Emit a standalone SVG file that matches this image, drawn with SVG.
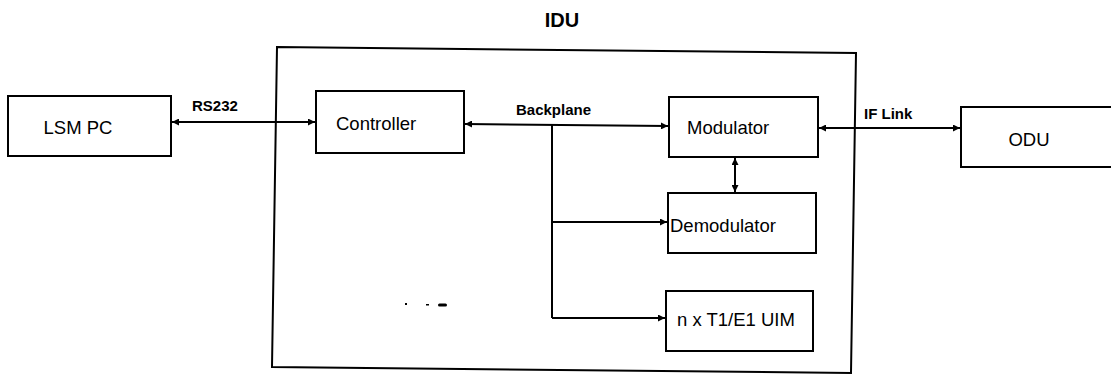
<svg xmlns="http://www.w3.org/2000/svg" width="1111" height="375" viewBox="0 0 1111 375">
<style>
.box{fill:#fff;stroke:#000;stroke-width:2}
.line{fill:none;stroke:#000;stroke-width:2}
.t{font-family:"Liberation Sans",Arial,sans-serif;font-size:18.5px;fill:#000}
.lbl{font-family:"Liberation Sans",Arial,sans-serif;font-size:15px;font-weight:bold;fill:#000}
</style>
<defs>
<marker id="ah" viewBox="0 0 10 10" refX="10" refY="5" markerWidth="9" markerHeight="7" markerUnits="userSpaceOnUse" orient="auto-start-reverse">
<path d="M0,0 L10,5 L0,10 Z" fill="#000"/>
</marker>
</defs>
<rect width="1111" height="375" fill="#fff"/>
<text x="562" y="27" text-anchor="middle" font-family="Liberation Sans, Arial, sans-serif" font-size="20" font-weight="bold">IDU</text>
<g id="idu">
<path class="line" d="M277,47 L856,53 L851,373 L272,367 Z"/>
</g>
<g id="lsm-pc">
<rect class="box" x="8" y="96" width="163" height="60"/>
<text class="t" x="78" y="134" text-anchor="middle">LSM PC</text>
</g>
<g id="controller">
<rect class="box" x="316" y="91" width="148" height="62"/>
<text class="t" x="336" y="130">Controller</text>
</g>
<g id="modulator">
<rect class="box" x="669" y="97" width="149" height="60"/>
<text class="t" x="687" y="134">Modulator</text>
</g>
<g id="demodulator">
<rect class="box" x="668" y="193" width="148" height="60"/>
<text class="t" x="670" y="232">Demodulator</text>
</g>
<g id="uim">
<rect class="box" x="666" y="291" width="147" height="60"/>
<text class="t" x="677" y="326">n x T1/E1 UIM</text>
</g>
<g id="odu">
<rect class="box" x="961" y="107" width="160" height="60"/>
<text class="t" x="1029" y="146" text-anchor="middle">ODU</text>
</g>
<g id="connectors">
<line class="line" x1="172" y1="122" x2="315" y2="122" marker-start="url(#ah)" marker-end="url(#ah)"/>
<text class="lbl" x="192" y="111">RS232</text>
<line class="line" x1="465" y1="124" x2="668" y2="126" marker-start="url(#ah)" marker-end="url(#ah)"/>
<text class="lbl" x="516" y="115">Backplane</text>
<path class="line" d="M552,125 L552,318"/>
<line class="line" x1="552" y1="222" x2="667" y2="222" marker-end="url(#ah)"/>
<line class="line" x1="552" y1="318" x2="665" y2="318" marker-end="url(#ah)"/>
<line class="line" x1="735" y1="158" x2="735" y2="192" marker-start="url(#ah)" marker-end="url(#ah)"/>
<line class="line" x1="819" y1="128" x2="960" y2="128" marker-start="url(#ah)" marker-end="url(#ah)"/>
<text class="lbl" x="864" y="119">IF Link</text>
</g>
<g id="smudge" fill="#000">
<rect x="405" y="303" width="2" height="2"/>
<rect x="426" y="304" width="3" height="1.5"/>
<rect x="438" y="303.5" width="9" height="3" rx="1.5"/>
</g>
</svg>
